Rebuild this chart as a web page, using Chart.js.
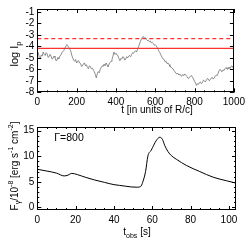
<!DOCTYPE html>
<html><head><meta charset="utf-8">
<script src="https://cdn.jsdelivr.net/npm/chart.js@4.4.1/dist/chart.umd.min.js"></script>
<style>
html,body{margin:0;padding:0;background:#fff;overflow:hidden}
#c1{position:absolute;left:0;top:0}
#c2{position:absolute;left:0;top:118px}
</style></head><body>
<canvas id="c1" width="249" height="118"></canvas>
<canvas id="c2" width="249" height="127"></canvas>
<script>
// ---------- data ----------
const tSim = [0,5,10,15,20,25,30,35,40,45,50,55,60,65,70,75,80,85,90,95,
100,105,110,115,120,125,130,135,140,145,150,155,160,165,170,175,180,185,190,195,
200,205,210,215,220,225,230,235,240,245,250,255,260,265,270,275,280,285,290,295,
300,305,310,315,320,325,330,335,340,345,350,355,360,365,370,375,380,385,390,395,
400,405,410,415,420,425,430,435,440,445,450,455,460,465,470,475,480,485,490,495,
500,505,510,515,520,525,530,535,540,545,550,555,560,565,570,575,580,585,590,595,
600,605,610,615,620,625,630,635,640,645,650,655,660,665,670,675,680,685,690,695,
700,705,710,715,720,725,730,735,740,745,750,755,760,765,770,775,780,785,790,795,
800,805,810,815,820,825,830,835,840,845,850,855,860,865,870,875,880,885,890,895,
900,905,910,915,920,925,930,935,940,945,950,955,960,965,970,975,980,985,990,995,1000];
const logIp = [-4.7,-4.55,-5.0,-5.1,-4.75,-4.85,-4.5,-4.7,-4.8,-4.55,-4.65,-4.95,-4.9,-4.7,-4.85,-5.1,-5.05,-4.85,-4.95,-5.25,
-5.2,-4.95,-5.1,-4.85,-4.75,-4.55,-4.45,-4.35,-4.2,-4.0,-3.85,-3.95,-4.1,-4.25,-4.4,-4.75,-5.0,-5.2,-5.3,-5.15,
-5.45,-5.3,-5.25,-5.45,-5.5,-5.75,-5.7,-5.5,-5.45,-5.7,-5.6,-5.85,-5.95,-5.7,-5.75,-5.95,-5.9,-6.05,-6.2,-6.45,
-6.75,-6.4,-6.2,-6.3,-6.0,-5.85,-5.7,-5.75,-5.55,-5.7,-5.45,-5.6,-5.8,-5.55,-5.4,-5.3,-5.15,-4.85,-4.5,-4.7,
-4.6,-4.75,-4.8,-5.05,-5.25,-5.05,-5.1,-4.9,-4.95,-5.2,-5.1,-4.9,-5.0,-4.85,-4.8,-4.9,-4.7,-4.55,-4.6,-4.45,
-4.4,-4.5,-4.25,-4.05,-3.8,-3.55,-3.35,-3.2,-3.15,-3.3,-3.25,-3.4,-3.5,-3.45,-3.6,-3.55,-3.7,-3.65,-3.75,-3.9,
-3.85,-3.95,-4.1,-4.3,-4.45,-4.6,-4.8,-4.95,-5.1,-5.15,-5.35,-5.3,-5.5,-5.45,-5.6,-5.75,-5.8,-5.9,-5.95,-6.1,
-6.2,-6.35,-6.4,-6.35,-6.5,-6.4,-6.55,-6.6,-6.45,-6.55,-6.4,-6.5,-6.6,-6.75,-6.8,-6.65,-6.6,-6.55,-6.7,-6.85,
-7.05,-7.2,-7.4,-7.25,-7.3,-7.15,-7.1,-7.25,-7.15,-6.95,-7.0,-7.1,-6.95,-6.8,-6.85,-7.0,-6.9,-6.75,-6.7,-6.85,
-6.75,-6.6,-6.5,-6.55,-6.35,-6.1,-6.0,-6.15,-6.2,-6.05,-6.1,-5.95,-5.85,-5.95,-6.0,-5.8,-5.95,-5.75,-5.7,-5.85,-5.75];
const threshDashed = -3.33;
const threshSolid = -4.17;
const topXTicks = [0,200,400,600,800,1000];
const topYTicks = [-8,-7,-6,-5,-4,-3,-2,-1];

const tObs = [0,5,10,14,16,18,21,25,30,35,40,43,46,49,52,54,55,56.5,57.7,59.5,62,63.9,65.3,66.5,68.2,70,72.6,77.8,84.8,91.8,98.8,103.7];
const flux = [7.45,7.1,6.7,6.15,6.3,6.65,6.4,5.9,5.35,4.9,4.45,4.3,4.15,4.0,3.95,4.1,4.9,7.0,10.0,11.2,13.0,13.7,13.3,12.1,10.9,10.1,9.4,8.2,7.0,5.9,5.2,4.75];
const botXTicks = [0,20,40,60,80,100];
const botYTicks = [0,5,10,15];

// ---------- helpers ----------
const FONT = '"Liberation Sans", Arial, sans-serif';
function richWidth(ctx, segs, size){
  let w=0;
  for(const s of segs){
    const fs = s.sub||s.sup ? size*0.7 : size;
    ctx.font = fs+'px '+FONT;
    w += ctx.measureText(s.t).width;
  }
  return w;
}
function richText(ctx, segs, x, y, size){
  const w = richWidth(ctx, segs, size);
  let cx = x - w/2;
  ctx.textBaseline='middle';
  ctx.textAlign='left';
  ctx.fillStyle='#000';
  for(const s of segs){
    const fs = s.sub||s.sup ? size*0.7 : size;
    ctx.font = fs+'px '+FONT;
    const dy = s.sub ? size*0.32 : (s.sup ? -size*0.38 : 0);
    ctx.fillText(s.t, cx, y+dy);
    cx += ctx.measureText(s.t).width;
  }
}

const framePlugin = {
  id:'frame',
  afterDraw(chart, args, opts){
    const ctx = chart.ctx, a = chart.chartArea;
    const xs = chart.scales.x, ys = chart.scales.y;
    ctx.save();
    ctx.strokeStyle='#000';
    ctx.lineWidth=1;
    ctx.strokeRect(Math.round(a.left)+0.5, Math.round(a.top)+0.5, Math.round(a.right-a.left)-1, Math.round(a.bottom-a.top)-1);
    ctx.beginPath();
    const drawX = (v,len)=>{
      const p = Math.round(xs.getPixelForValue(v))+0.5;
      ctx.moveTo(p,a.bottom); ctx.lineTo(p,a.bottom-len);
      ctx.moveTo(p,a.top); ctx.lineTo(p,a.top+len);
    };
    const drawY = (v,len)=>{
      const p = Math.round(ys.getPixelForValue(v))+0.5;
      ctx.moveTo(a.left,p); ctx.lineTo(a.left+len,p);
      ctx.moveTo(a.right,p); ctx.lineTo(a.right-len,p);
    };
    for(const v of opts.xMajor) drawX(v,4);
    for(const v of opts.yMajor) drawY(v,4);
    if(opts.xMinor){ for(let v=xs.min; v<=xs.max+1e-9; v+=opts.xMinor) drawX(v,2); }
    if(opts.yMinor){ for(let v=Math.ceil(ys.min); v<=ys.max+1e-9; v+=opts.yMinor) drawY(v,2); }
    ctx.stroke();
    for(const lab of opts.labels){
      if(lab.rot){
        ctx.save(); ctx.translate(lab.x, lab.y); ctx.rotate(-Math.PI/2);
        richText(ctx, lab.segs, 0, 0, lab.size); ctx.restore();
      } else richText(ctx, lab.segs, lab.x, lab.y, lab.size);
    }
    ctx.restore();
  }
};

const tickFont = {family: FONT, size: 10};
function axisCommon(){
  return {grid:{display:false, drawTicks:false}, border:{display:false},
    ticks:{color:'#000', font:tickFont, maxRotation:0, autoSkip:false, callback: v => String(v)}};
}

// ---------- top chart ----------
const tx = axisCommon(); tx.type='linear'; tx.min=0; tx.max=1000; tx.ticks.padding=4;
tx.afterBuildTicks = s=>{ s.ticks = topXTicks.map(v=>({value:v})); };
tx.afterFit = s=>{ s.height = 25.7; };
const ty = axisCommon(); ty.min=-8; ty.max=-0.75; ty.ticks.padding=3;
ty.afterBuildTicks = s=>{ s.ticks = topYTicks.map(v=>({value:v})); };
ty.afterFit = s=>{ s.width = 37.3; };

new Chart(document.getElementById('c1'), {
  type:'line',
  data:{datasets:[
    {data: tSim.map((t,i)=>({x:t,y:logIp[i]})), borderColor:'#707070', borderWidth:0.8, pointRadius:0, tension:0},
    {data:[{x:0,y:threshDashed},{x:1000,y:threshDashed}], borderColor:'#ff3030', borderWidth:1.3, borderDash:[4,3], pointRadius:0},
    {data:[{x:0,y:threshSolid},{x:1000,y:threshSolid}], borderColor:'#ff3030', borderWidth:1.3, pointRadius:0}
  ]},
  options:{responsive:false, animation:false, devicePixelRatio:1,
    layout:{padding:{top:5, right:13.7, left:0, bottom:0}},
    plugins:{legend:{display:false}, tooltip:{enabled:false},
      frame:{xMajor:topXTicks, yMajor:topYTicks, xMinor:50, yMinor:null,
        labels:[
          {segs:[{t:'t [in units of R/c]'}], x:157, y:110.5, size:10},
          {segs:[{t:'log I'},{t:'p',sub:true}], x:15, y:54, size:11, rot:true}
        ]}},
    scales:{x:tx, y:ty}
  },
  plugins:[framePlugin]
});

// ---------- bottom chart ----------
const bx = axisCommon(); bx.type='linear'; bx.min=0; bx.max=103.7; bx.ticks.padding=4;
bx.afterBuildTicks = s=>{ s.ticks = botXTicks.map(v=>({value:v})); };
bx.afterFit = s=>{ s.height = 35; };
const by = axisCommon(); by.min=-0.5; by.max=15.7; by.ticks.padding=3;
by.afterBuildTicks = s=>{ s.ticks = botYTicks.map(v=>({value:v})); };
by.afterFit = s=>{ s.width = 37.3; };

new Chart(document.getElementById('c2'), {
  type:'line',
  data:{datasets:[
    {data: tObs.map((t,i)=>({x:t,y:flux[i]})), borderColor:'#000', borderWidth:1, pointRadius:0, cubicInterpolationMode:'monotone'}
  ]},
  options:{responsive:false, animation:false, devicePixelRatio:1,
    layout:{padding:{top:2, right:13, left:0, bottom:0}},
    plugins:{legend:{display:false}, tooltip:{enabled:false},
      frame:{xMajor:botXTicks, yMajor:botYTicks, xMinor:5, yMinor:1,
        labels:[
          {segs:[{t:'t'},{t:'obs',sub:true},{t:' [s]'}], x:137, y:114.5, size:10},
          {segs:[{t:'F'},{t:'γ',sub:true},{t:'/10'},{t:'-8',sup:true},{t:' [erg s'},{t:'-1',sup:true},{t:' cm'},{t:'-2',sup:true},{t:']'}], x:15, y:48, size:10, rot:true},
          {segs:[{t:'Γ=800'}], x:69, y:20, size:10.5}
        ]}},
    scales:{x:bx, y:by}
  },
  plugins:[framePlugin]
});
</script>
</body></html>
